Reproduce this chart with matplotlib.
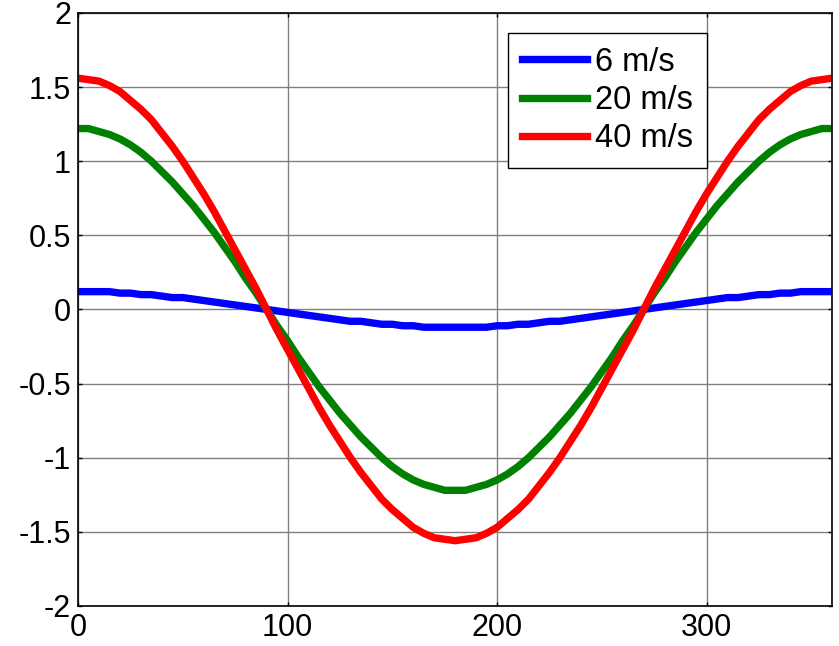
import numpy as np
import matplotlib.pyplot as plt

plt.rcParams['font.family'] = ['Liberation Sans', 'DejaVu Sans']

# angle (deg) and values, every 5 degrees from 0 to 180
angle = list(range(0, 361, 5))
half_6 = [0.12, 0.12, 0.12, 0.12, 0.11, 0.11, 0.10, 0.10, 0.09, 0.08,
          0.08, 0.07, 0.06, 0.05, 0.04, 0.03, 0.02, 0.01, 0.00,
          -0.01, -0.02, -0.03, -0.04, -0.05, -0.06, -0.07, -0.08, -0.08,
          -0.09, -0.10, -0.10, -0.11, -0.11, -0.12, -0.12, -0.12, -0.12]
half_20 = [1.22, 1.22, 1.20, 1.18, 1.15, 1.11, 1.06, 1.00, 0.93, 0.86,
           0.78, 0.70, 0.61, 0.52, 0.42, 0.32, 0.21, 0.11, 0.00,
           -0.11, -0.21, -0.32, -0.42, -0.52, -0.61, -0.70, -0.78, -0.86,
           -0.93, -1.00, -1.06, -1.11, -1.15, -1.18, -1.20, -1.22, -1.22]
half_40 = [1.56, 1.55, 1.54, 1.51, 1.47, 1.41, 1.35, 1.28, 1.19, 1.10,
           1.00, 0.89, 0.78, 0.66, 0.53, 0.40, 0.27, 0.14, 0.00,
           -0.14, -0.27, -0.40, -0.53, -0.66, -0.78, -0.89, -1.00, -1.10,
           -1.19, -1.28, -1.35, -1.41, -1.47, -1.51, -1.54, -1.55, -1.56]
# curves are mirror symmetric about 180 deg
v6 = half_6 + half_6[-2::-1]
v20 = half_20 + half_20[-2::-1]
v40 = half_40 + half_40[-2::-1]

labels = ['6 m/s', '20 m/s', '40 m/s']
colors = ['#0000ff', '#008000', '#ff0000']

fig = plt.figure(figsize=(8.39, 6.46), dpi=100)
ax = fig.add_axes([0.093, 0.062, 0.899, 0.918])

for vals, lab, c in zip([v6, v20, v40], labels, colors):
    ax.plot(angle, vals, color=c, linewidth=5.3, label=lab)

ax.set_xlim(0, 360)
ax.set_ylim(-2, 2)
ax.set_xticks([0, 100, 200, 300])
ax.set_yticks(np.arange(-2, 2.01, 0.5))
ax.set_yticklabels(['-2', '-1.5', '-1', '-0.5', '0', '0.5', '1', '1.5', '2'])
ax.grid(True, color='#808080', linewidth=1.0)
ax.set_axisbelow(True)
ax.tick_params(direction='in', length=3, width=1, labelsize=22, pad=5,
               top=True, right=True)
for s in ax.spines.values():
    s.set_linewidth(1.2)

leg = ax.legend(loc='upper right', bbox_to_anchor=(0.834, 0.966), fontsize=23.5,
                fancybox=False, edgecolor='black', framealpha=1,
                handlelength=2.0, labelspacing=0.22, borderpad=0.42,
                handletextpad=0.25, borderaxespad=0)
leg.get_frame().set_linewidth(1.0)

fig.savefig('out.png', dpi=100)
